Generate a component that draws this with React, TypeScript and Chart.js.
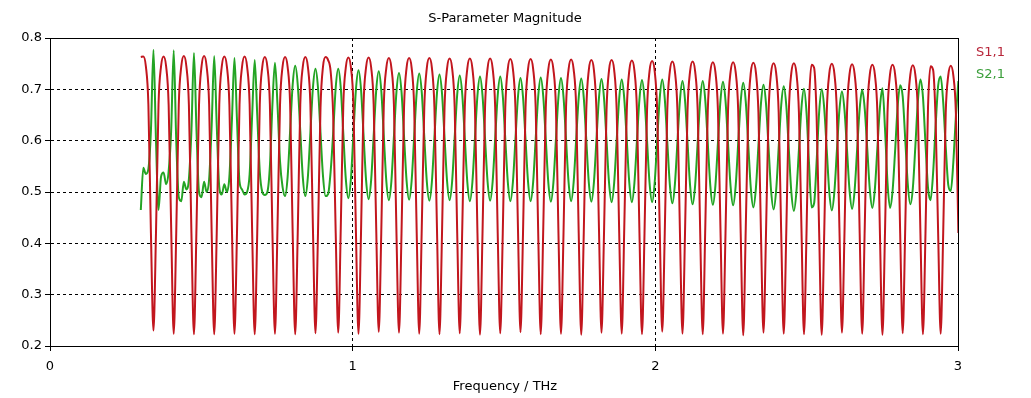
import React, { useEffect, useRef } from "react";
import { Chart, registerables } from "chart.js";

Chart.register(...registerables);

const chartTitle = "S-Parameter Magnitude";
const xAxisTitle = "Frequency / THz";
const seriesNames = ["S1,1", "S2,1"];
const seriesColors = ["#c2161e", "#24a424"];
const legendColors = ["#b8263a", "#3a9e3a"];
const xTickValues = [0, 1, 2, 3];
const yTickValues = [0.2, 0.3, 0.4, 0.5, 0.6, 0.7, 0.8];

// frequency sweep (THz): first sample and sample spacing
const freqStart = 0.3;
const freqStep = 0.0083631;

// |S1,1| samples along the sweep
const s11 = [
  0.763, 0.764, 0.745, 0.67, 0.42, 0.230, 0.42, 0.67,
  0.745, 0.764, 0.745, 0.67, 0.43, 0.224, 0.42, 0.67,
  0.745, 0.765, 0.745, 0.67, 0.42, 0.223, 0.43, 0.67,
  0.745, 0.765, 0.745, 0.67, 0.42, 0.223, 0.42, 0.67,
  0.745, 0.764, 0.745, 0.67, 0.43, 0.224, 0.42, 0.67,
  0.744, 0.764, 0.744, 0.67, 0.42, 0.223, 0.42, 0.67,
  0.744, 0.763, 0.744, 0.67, 0.42, 0.224, 0.43, 0.67,
  0.744, 0.763, 0.744, 0.67, 0.42, 0.223, 0.42, 0.67,
  0.744, 0.763, 0.744, 0.67, 0.43, 0.225, 0.42, 0.665,
  0.745, 0.763, 0.757, 0.735, 0.65, 0.42, 0.226, 0.43,
  0.67, 0.743, 0.762, 0.743, 0.67, 0.42, 0.224, 0.42,
  0.67, 0.743, 0.762, 0.743, 0.67, 0.43, 0.228, 0.42,
  0.67, 0.742, 0.761, 0.742, 0.67, 0.42, 0.226, 0.42,
  0.665, 0.742, 0.761, 0.742, 0.665, 0.42, 0.224, 0.43,
  0.665, 0.742, 0.761, 0.742, 0.665, 0.43, 0.223, 0.42,
  0.665, 0.741, 0.760, 0.741, 0.665, 0.42, 0.225, 0.43,
  0.665, 0.741, 0.760, 0.741, 0.665, 0.42, 0.222, 0.42,
  0.665, 0.741, 0.760, 0.741, 0.665, 0.42, 0.225, 0.42,
  0.665, 0.740, 0.759, 0.740, 0.665, 0.43, 0.227, 0.42,
  0.665, 0.740, 0.759, 0.740, 0.665, 0.42, 0.223, 0.43,
  0.665, 0.739, 0.758, 0.739, 0.665, 0.42, 0.224, 0.42,
  0.665, 0.739, 0.758, 0.739, 0.665, 0.42, 0.222, 0.42,
  0.66, 0.738, 0.757, 0.738, 0.66, 0.43, 0.226, 0.42,
  0.66, 0.738, 0.757, 0.738, 0.66, 0.42, 0.224, 0.43,
  0.66, 0.737, 0.756, 0.737, 0.66, 0.42, 0.223, 0.42,
  0.66, 0.736, 0.755, 0.736, 0.66, 0.43, 0.228, 0.42,
  0.66, 0.735, 0.754, 0.735, 0.66, 0.42, 0.224, 0.42,
  0.66, 0.735, 0.754, 0.735, 0.66, 0.42, 0.223, 0.43,
  0.66, 0.734, 0.753, 0.734, 0.66, 0.43, 0.224, 0.42,
  0.66, 0.734, 0.753, 0.734, 0.66, 0.42, 0.221, 0.43,
  0.655, 0.733, 0.752, 0.733, 0.655, 0.42, 0.226, 0.42,
  0.655, 0.732, 0.751, 0.732, 0.655, 0.42, 0.224, 0.42,
  0.655, 0.732, 0.751, 0.732, 0.655, 0.43, 0.223, 0.42,
  0.67, 0.748, 0.742, 0.645, 0.42, 0.222, 0.42, 0.655,
  0.731, 0.750, 0.731, 0.655, 0.43, 0.226, 0.42, 0.655,
  0.730, 0.749, 0.730, 0.655, 0.42, 0.224, 0.43, 0.655,
  0.729, 0.748, 0.729, 0.655, 0.42, 0.222, 0.42, 0.655,
  0.729, 0.748, 0.729, 0.655, 0.42, 0.225, 0.43, 0.655,
  0.728, 0.747, 0.728, 0.655, 0.42, 0.223, 0.42, 0.665,
  0.745, 0.738, 0.64, 0.42, 0.224, 0.42, 0.655, 0.727,
  0.746, 0.727, 0.655, 0.42,
];

// |S2,1| samples along the same sweep
const s21 = [
  0.465, 0.547, 0.535, 0.545, 0.62, 0.777, 0.60, 0.465,
  0.53, 0.538, 0.515, 0.54, 0.62, 0.776, 0.60, 0.49,
  0.482, 0.52, 0.505, 0.525, 0.62, 0.771, 0.62, 0.50,
  0.49, 0.52, 0.50, 0.525, 0.63, 0.765, 0.63, 0.51,
  0.495, 0.515, 0.50, 0.53, 0.64, 0.761, 0.64, 0.52,
  0.505, 0.495, 0.50, 0.535, 0.65, 0.757, 0.65, 0.54,
  0.50, 0.494, 0.50, 0.55, 0.67, 0.752, 0.67, 0.56,
  0.51, 0.492, 0.529, 0.619, 0.709, 0.746, 0.709, 0.619,
  0.529, 0.492, 0.529, 0.616, 0.703, 0.740, 0.703, 0.615,
  0.53, 0.492, 0.496, 0.54, 0.615, 0.703, 0.740, 0.703,
  0.614, 0.525, 0.488, 0.525, 0.613, 0.700, 0.737, 0.700,
  0.611, 0.523, 0.486, 0.523, 0.61, 0.698, 0.735, 0.698,
  0.609, 0.521, 0.484, 0.521, 0.608, 0.695, 0.732, 0.695,
  0.608, 0.522, 0.485, 0.522, 0.608, 0.694, 0.731, 0.694,
  0.607, 0.520, 0.483, 0.520, 0.606, 0.692, 0.729, 0.692,
  0.606, 0.521, 0.484, 0.521, 0.606, 0.690, 0.727, 0.690,
  0.605, 0.519, 0.482, 0.519, 0.604, 0.688, 0.725, 0.688,
  0.604, 0.520, 0.483, 0.520, 0.604, 0.688, 0.725, 0.688,
  0.603, 0.519, 0.482, 0.519, 0.602, 0.685, 0.722, 0.685,
  0.602, 0.519, 0.482, 0.519, 0.603, 0.686, 0.723, 0.686,
  0.602, 0.518, 0.481, 0.518, 0.602, 0.685, 0.722, 0.685,
  0.602, 0.519, 0.482, 0.519, 0.602, 0.684, 0.721, 0.684,
  0.601, 0.518, 0.481, 0.518, 0.601, 0.683, 0.720, 0.683,
  0.600, 0.517, 0.480, 0.517, 0.600, 0.682, 0.719, 0.682,
  0.600, 0.517, 0.480, 0.517, 0.599, 0.681, 0.718, 0.681,
  0.599, 0.517, 0.480, 0.517, 0.600, 0.682, 0.719, 0.682,
  0.598, 0.515, 0.478, 0.515, 0.597, 0.679, 0.716, 0.679,
  0.596, 0.513, 0.476, 0.513, 0.596, 0.679, 0.716, 0.679,
  0.595, 0.512, 0.475, 0.512, 0.595, 0.678, 0.715, 0.678,
  0.594, 0.511, 0.474, 0.511, 0.594, 0.676, 0.713, 0.676,
  0.591, 0.507, 0.470, 0.507, 0.590, 0.672, 0.709, 0.672,
  0.587, 0.503, 0.466, 0.503, 0.586, 0.669, 0.706, 0.669,
  0.584, 0.500, 0.463, 0.500, 0.582, 0.664, 0.701, 0.655,
  0.555, 0.470, 0.478, 0.560, 0.656, 0.700, 0.663, 0.581,
  0.500, 0.464, 0.500, 0.580, 0.660, 0.696, 0.660, 0.582,
  0.503, 0.467, 0.503, 0.583, 0.662, 0.699, 0.662, 0.584,
  0.505, 0.469, 0.505, 0.586, 0.665, 0.702, 0.624, 0.518,
  0.469, 0.502, 0.580, 0.666, 0.708, 0.686, 0.603, 0.516,
  0.476, 0.507, 0.589, 0.677, 0.719, 0.685, 0.594, 0.508,
  0.484, 0.536, 0.628, 0.707, 0.725, 0.675, 0.588, 0.514,
  0.502, 0.558, 0.646, 0.716,
];

const FONT = "'DejaVu Sans', Verdana, sans-serif";

const decorPlugin = {
  id: "decor",
  afterDraw(chart: any) {
    const { ctx, chartArea: a } = chart;
    ctx.save();
    ctx.setLineDash([]);
    ctx.strokeStyle = "#000";
    ctx.lineWidth = 1;
    const l = Math.round(a.left) + 0.5;
    const t = Math.round(a.top) + 0.5;
    const r = Math.round(a.right) + 0.5;
    const b = Math.round(a.bottom) + 0.5;
    ctx.strokeRect(l, t, r - l, b - t);

    ctx.font = `13px ${FONT}`;
    ctx.fillStyle = "#000";
    ctx.textAlign = "center";
    ctx.textBaseline = "middle";
    const cx = (a.left + a.right) / 2;
    ctx.fillText(chartTitle, cx + 1, 19);
    ctx.fillText(xAxisTitle, cx + 1, 387);

    ctx.textAlign = "left";
    seriesNames.forEach((name, i) => {
      ctx.fillStyle = legendColors[i];
      ctx.fillText(name, a.right + 18, 53 + i * 22);
    });
    ctx.restore();
  },
};

export default function App() {
  const canvasRef = useRef<HTMLCanvasElement | null>(null);

  useEffect(() => {
    document.body.style.margin = "0";
    const canvas = canvasRef.current;
    if (!canvas) return;

    const toPoints = (vals: number[]) =>
      vals.map((v, i) => ({ x: freqStart + i * freqStep, y: v }));

    const axisCommon = {
      type: "linear" as const,
      ticks: {
        color: "#000",
        font: { family: FONT, size: 13 },
        maxRotation: 0,
        autoSkip: false,
      },
      grid: {
        color: "#000",
        lineWidth: 1,
        tickLength: 5,
        tickColor: "#000",
        tickWidth: 1,
      },
      border: { display: true, color: "#000", width: 1, dash: [3, 3] },
    };

    const chart = new Chart(canvas, {
      type: "line",
      data: {
        datasets: [
          {
            label: seriesNames[0],
            data: toPoints(s11),
            borderColor: seriesColors[0],
            backgroundColor: seriesColors[0],
            borderWidth: 2,
            pointRadius: 0,
            cubicInterpolationMode: "monotone",
            fill: false,
          },
          {
            label: seriesNames[1],
            data: toPoints(s21),
            borderColor: seriesColors[1],
            backgroundColor: seriesColors[1],
            borderWidth: 2,
            pointRadius: 0,
            cubicInterpolationMode: "monotone",
            fill: false,
          },
        ],
      },
      options: {
        responsive: false,
        animation: false,
        events: [],
        layout: { padding: { left: 0, top: 38, right: 73, bottom: 0 } },
        plugins: {
          legend: { display: false },
          title: { display: false },
          tooltip: { enabled: false },
        },
        scales: {
          x: {
            ...axisCommon,
            min: xTickValues[0],
            max: xTickValues[xTickValues.length - 1],
            afterFit: (s: any) => {
              s.height = 52;
            },
            afterBuildTicks: (s: any) => {
              s.ticks = xTickValues.map((v) => ({ value: v }));
            },
            ticks: {
              ...axisCommon.ticks,
              padding: 8,
              callback: (v: any) => String(v),
            },
          },
          y: {
            ...axisCommon,
            min: yTickValues[0],
            max: yTickValues[yTickValues.length - 1],
            afterFit: (s: any) => {
              s.width = 50;
            },
            afterBuildTicks: (s: any) => {
              s.ticks = yTickValues.map((v) => ({ value: v }));
            },
            ticks: {
              ...axisCommon.ticks,
              padding: 3,
              callback: (v: any) => Number(v).toFixed(1),
            },
          },
        },
      } as any,
      plugins: [decorPlugin],
    });

    return () => {
      chart.destroy();
    };
  }, []);

  return (
    <canvas
      ref={canvasRef}
      width={1031}
      height={398}
      style={{ display: "block", width: "1031px", height: "398px" }}
    />
  );
}
